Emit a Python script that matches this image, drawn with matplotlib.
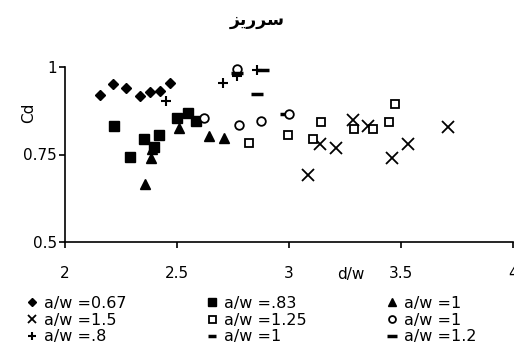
import matplotlib
matplotlib.use("Agg")
import matplotlib.pyplot as plt
from matplotlib.lines import Line2D

plt.rcParams['font.family'] = ['DejaVu Sans']

# ---- data ----
x_d067 = [2.156, 2.216, 2.271, 2.335, 2.379, 2.424, 2.469]
y_d067 = [0.920, 0.952, 0.940, 0.918, 0.928, 0.931, 0.953]

x_d083 = [2.220, 2.354, 2.421, 2.397, 2.290, 2.498, 2.550, 2.585]
y_d083 = [0.832, 0.795, 0.805, 0.772, 0.744, 0.855, 0.868, 0.846]

x_d1t = [2.357, 2.382, 2.387, 2.510, 2.644, 2.710]
y_d1t = [0.666, 0.740, 0.765, 0.827, 0.803, 0.798]

x_d15 = [3.086, 3.138, 3.208, 3.284, 3.354, 3.461, 3.530, 3.711]
y_d15 = [0.692, 0.779, 0.768, 0.850, 0.831, 0.741, 0.779, 0.829]

x_d125 = [2.821, 2.996, 3.106, 3.143, 3.290, 3.376, 3.448, 3.473]
y_d125 = [0.784, 0.805, 0.794, 0.844, 0.822, 0.822, 0.844, 0.893]

x_d1c = [2.621, 2.777, 2.873, 3.001, 2.766]
y_d1c = [0.855, 0.833, 0.846, 0.867, 0.995]

x_d08 = [2.451, 2.704, 2.855, 2.770]
y_d08 = [0.902, 0.953, 0.991, 0.975]

x_d1d = [2.980]
y_d1d = [0.867]

x_d12 = [2.855, 2.885, 2.770]
y_d12 = [0.924, 0.992, 0.982]

series = [
    # label, x, y, marker, size, face, mew
    ("a/w =0.67", x_d067, y_d067, "D", 5.5, "black", 1.0),
    ("a/w =1.5", x_d15, y_d15, "x", 8.0, "black", 1.3),
    ("a/w =.8", x_d08, y_d08, "+", 7.5, "black", 1.5),
    ("a/w =.83", x_d083, y_d083, "s", 7.2, "black", 1.0),
    ("a/w =1.25", x_d125, y_d125, "s", 6.3, "white", 1.3),
    ("a/w =1", x_d1d, y_d1d, "_", 7.0, "black", 2.5),
    ("a/w =1", x_d1t, y_d1t, "^", 7.8, "black", 1.0),
    ("a/w =1", x_d1c, y_d1c, "o", 6.2, "white", 1.3),
    ("a/w =1.2", x_d12, y_d12, "_", 9.0, "black", 2.5),
]

fig = plt.figure(figsize=(5.14, 3.53), dpi=100)
ax = fig.add_axes([65/514, 111/353, 448/514, 175/353])

for label, xs, ys, m, s, fc, mew in series:
    ax.plot(xs, ys, linestyle="none", marker=m, markersize=s,
            markerfacecolor=fc, markeredgecolor="black", markeredgewidth=mew,
            color="black", clip_on=False, zorder=3)

ax.set_xlim(2, 4)
ax.set_ylim(0.5, 1.0)
ax.set_xticks([2, 2.5, 3, 3.5, 4])
ax.set_xticklabels(["2", "2.5", "3", "3.5", "4"])
ax.set_yticks([0.5, 0.75, 1])
ax.set_yticklabels(["0.5", "0.75", "1"])
for sp in ["top", "right"]:
    ax.spines[sp].set_visible(False)
ax.spines["left"].set_linewidth(1.2)
ax.spines["bottom"].set_linewidth(1.2)
ax.tick_params(axis="both", direction="out", length=4, width=1.2,
               labelsize=11, colors="black")
ax.tick_params(axis="x", pad=13)
ax.tick_params(axis="y", pad=2)

ax.set_ylabel("Cd", fontsize=11)
ax.yaxis.set_label_coords(-0.064, 0.74)
fig.text(351/514, 1 - 275/353, "d/w", fontsize=11, ha="center", va="center")

# title (Persian "سرریز", shaped with presentation forms)
fig.text(257/514, 1 - 20/353, "\uFEB0\uFBFE\uFEAD\uFEAE\uFEB3",
         fontsize=12.5, fontweight="bold", ha="center", va="center")

handles = []
for label, xs, ys, m, s, fc, mew in series:
    handles.append(Line2D([], [], linestyle="none", marker=m,
                          markersize=s * 0.8, markerfacecolor=fc,
                          markeredgecolor="black", markeredgewidth=mew,
                          color="black", label=label))
fig.legend(handles=handles, ncol=3, loc="upper left",
           bbox_to_anchor=(18/514, 1 - 288/353), frameon=False,
           fontsize=11.5, labelspacing=0.1, handlelength=0.8,
           handletextpad=0.35, columnspacing=4.95, borderpad=0)

fig.savefig("out.png", dpi=100)
